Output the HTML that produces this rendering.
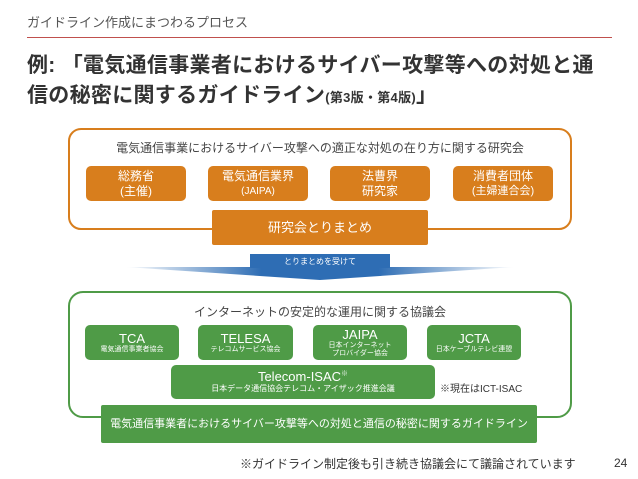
<!DOCTYPE html>
<html><head><meta charset="utf-8"><style>
body{margin:0;width:638px;height:479px;background:#fff;position:relative;overflow:hidden;font-family:"Liberation Sans","Noto Sans CJK JP",sans-serif;}
.a{position:absolute;}
.ob{position:absolute;background:#d87e1d;color:#fff;border-radius:5px;text-align:center;font-size:12px;line-height:15px;display:flex;flex-direction:column;justify-content:center;}
.gb{position:absolute;background:#4f9b47;color:#fff;border-radius:5px;text-align:center;display:flex;flex-direction:column;justify-content:center;line-height:1.1;}
.s{font-size:7px;}
.l{font-size:13px;}
</style></head><body>
<div class="a" style="left:27px;top:12px;font-size:13px;color:#555;">ガイドライン作成にまつわるプロセス</div>
<div class="a" style="left:27px;top:37px;width:585px;height:1px;background:#c0504d;"></div>
<div class="a" style="left:27px;top:51px;font-size:21px;font-weight:bold;color:#333;line-height:30px;letter-spacing:0.3px;">例: 「電気通信事業者におけるサイバー攻撃等への対処と通<br>信の秘密に関するガイドライン<span style="font-size:13px">(第3版・第4版)</span>」</div>

<div class="a" style="left:68px;top:128px;width:500px;height:98px;border:2px solid #d87e1d;border-radius:13px;"></div>
<div class="a" style="left:68px;top:139px;width:504px;text-align:center;font-size:12px;color:#444;">電気通信事業におけるサイバー攻撃への適正な対処の在り方に関する研究会</div>
<div class="ob" style="left:86px;top:166px;width:100px;height:35px;">総務省<br>(主催)</div>
<div class="ob" style="left:208px;top:166px;width:100px;height:35px;">電気通信業界<br><span style="font-size:10px">(JAIPA)</span></div>
<div class="ob" style="left:330px;top:166px;width:100px;height:35px;">法曹界<br>研究家</div>
<div class="ob" style="left:453px;top:166px;width:100px;height:35px;">消費者団体<br><span style="font-size:11px">(主婦連合会)</span></div>
<div class="ob" style="left:212px;top:210px;width:216px;height:35px;border-radius:2px;font-size:13px;">研究会とりまとめ</div>

<svg class="a" style="left:0;top:0" width="638" height="479">
<defs><linearGradient id="g" x1="0" x2="1"><stop offset="0" stop-color="#2e6db4" stop-opacity="0"/><stop offset="0.35" stop-color="#2e6db4"/><stop offset="0.65" stop-color="#2e6db4"/><stop offset="1" stop-color="#2e6db4" stop-opacity="0"/></linearGradient></defs>
<polygon points="125,267 515,267 320,280" fill="url(#g)"/>
<rect x="250" y="254" width="140" height="14" fill="#2e6db4"/>
<text x="320" y="264" font-size="8" fill="#fff" text-anchor="middle" font-family="Liberation Sans,Noto Sans CJK JP,sans-serif">とりまとめを受けて</text>
</svg>

<div class="a" style="left:68px;top:291px;width:500px;height:123px;border:2px solid #4f9b47;border-radius:15px;"></div>
<div class="a" style="left:68px;top:303px;width:504px;text-align:center;font-size:12px;color:#444;">インターネットの安定的な運用に関する協議会</div>
<div class="gb" style="left:85px;top:325px;width:94px;height:35px;"><span class="l">TCA</span><span class="s">電気通信事業者協会</span></div>
<div class="gb" style="left:198px;top:325px;width:95px;height:35px;"><span class="l">TELESA</span><span class="s">テレコムサービス協会</span></div>
<div class="gb" style="left:313px;top:325px;width:94px;height:35px;"><span class="l">JAIPA</span><span class="s">日本インターネット<br>プロバイダー協会</span></div>
<div class="gb" style="left:427px;top:325px;width:94px;height:35px;"><span class="l">JCTA</span><span class="s">日本ケーブルテレビ連盟</span></div>
<div class="gb" style="left:171px;top:365px;width:264px;height:34px;"><span class="l">Telecom-ISAC<sup style="font-size:7px">※</sup></span><span class="s" style="font-size:8px">日本データ通信協会テレコム・アイザック推進会議</span></div>
<div class="a" style="left:440px;top:380px;font-size:10px;color:#333;">※現在はICT-ISAC</div>
<div class="gb" style="left:101px;top:405px;width:436px;height:38px;border-radius:2px;font-size:11px;">電気通信事業者におけるサイバー攻撃等への対処と通信の秘密に関するガイドライン</div>
<div class="a" style="left:240px;top:455px;font-size:12px;color:#333;">※ガイドライン制定後も引き続き協議会にて議論されています</div>
<div class="a" style="left:614px;top:456px;font-size:12px;color:#333;">24</div>
</body></html>
